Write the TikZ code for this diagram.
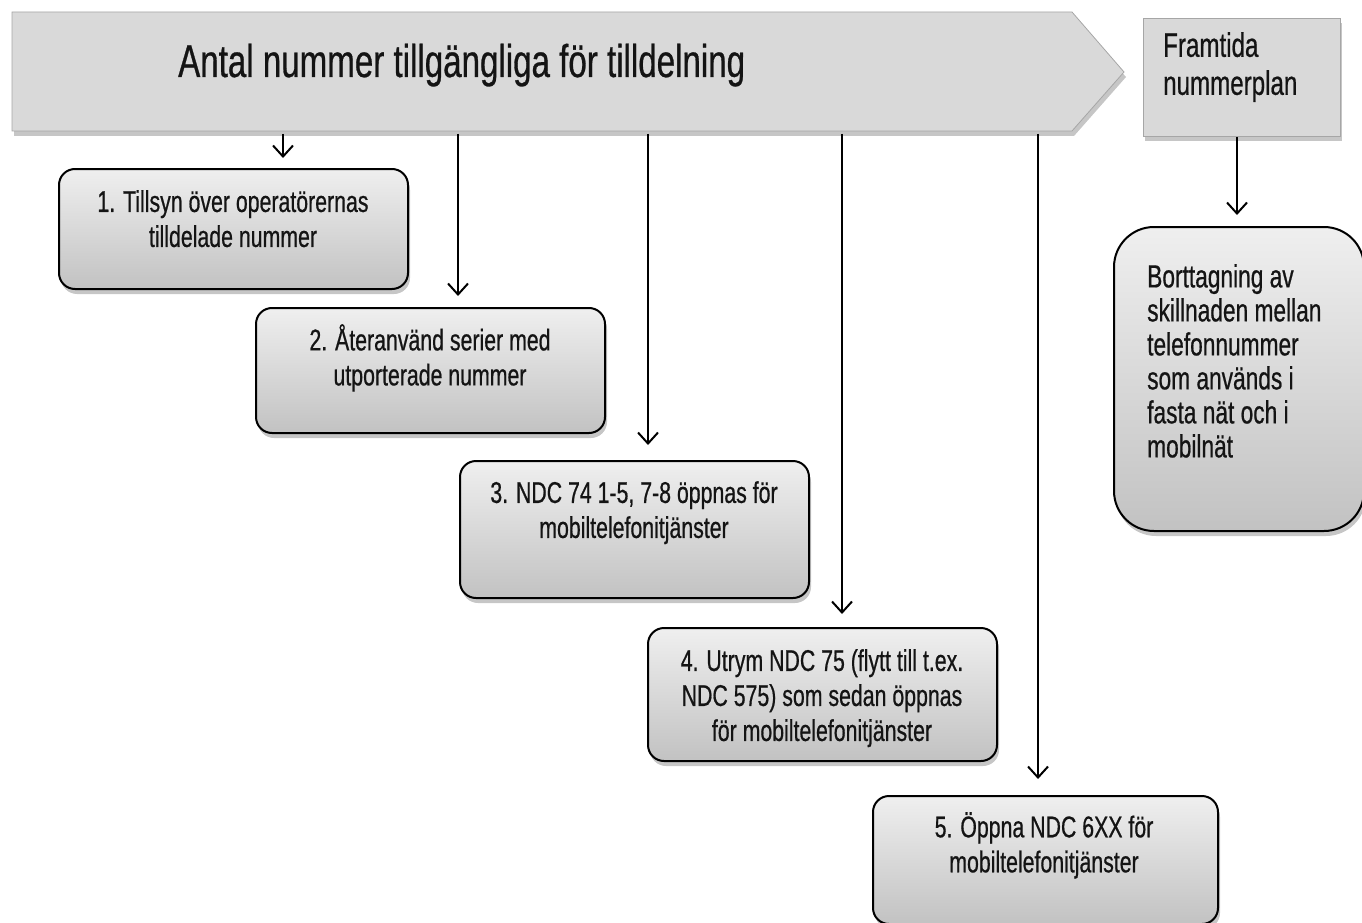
\documentclass[tikz,border=0pt]{standalone}
\usepackage{fontspec}
\setmainfont[FakeStretch=0.71, FakeBold=0.6]{Liberation Sans}
\newfontfamily\titlefont[FakeStretch=0.72, FakeBold=0.6]{Liberation Sans}
\usetikzlibrary{arrows.meta,shadows}
\definecolor{bannerfill}{HTML}{D9D9D9}
\definecolor{bannerline}{HTML}{A6A6A6}
\definecolor{boxtop}{HTML}{EFEFEF}
\definecolor{boxbot}{HTML}{C2C2C2}
\definecolor{ink}{HTML}{141414}
\tikzset{
  shadowed/.style={drop shadow={opacity=0.45, shadow xshift=2pt, shadow yshift=-5pt}},
  numbox/.style={draw=black, line width=2pt, rounded corners=16pt, top color=boxtop, bottom color=boxbot,
    shadowed, anchor=north west, inner sep=0pt, minimum width=349pt},
  boxtext/.style={text=ink, font=\fontsize{30}{35}\selectfont, align=center, anchor=north, inner sep=0pt},
  link/.style={line width=2pt, -{Straight Barb[length=11pt, width=20pt, line width=2pt]}},
}
\begin{document}
\begin{tikzpicture}[x=1pt,y=-1pt]
\useasboundingbox (0,0) rectangle (1362,923);
% banner
\fill[bannerfill, draw=bannerline, line width=0.8pt, shadowed]
  (12,12) -- (1072,12) -- (1124,72) -- (1072,131) -- (12,131) -- cycle;
\node[anchor=base west, inner sep=0pt, text=ink, font=\titlefont\fontsize{46}{50}\selectfont] (title) at (178,77)
  {Antal nummer tillgängliga för tilldelning};
% future plan box
\node[draw=bannerline, line width=0.8pt, fill=bannerfill, shadowed, anchor=north west, inner sep=0pt,
  minimum width=197pt, minimum height=118pt] (fp) at (1143,18) {};
\node[anchor=north west, align=left, inner sep=0pt, text=ink, font=\fontsize{34}{38}\selectfont] (fpt) at (1163,32)
  {Framtida\\nummerplan};
\node[numbox, rounded corners=40pt, minimum width=250pt, minimum height=304pt] (bt) at (1113,226) {};
\node[anchor=north west, align=left, inner sep=0pt, text=ink, font=\fontsize{32}{34}\selectfont] (btt) at (1147,264)
  {Borttagning av\\skillnaden mellan\\telefonnummer\\som används i\\fasta nät och i\\mobilnät};
% numbered boxes
\node[numbox, minimum height=120pt] (b1) at (58,168) {};
\node[boxtext] (t1) at (233,190) {1. Tillsyn över operatörernas\\tilldelade nummer};
\node[numbox, minimum height=125pt] (b2) at (255,307) {};
\node[boxtext] (t2) at (430,324) {2. Återanvänd serier med\\utporterade nummer};
\node[numbox, minimum height=137pt] (b3) at (459,460) {};
\node[boxtext] (t3) at (634,481) {3. NDC 74 1-5, 7-8 öppnas för\\mobiltelefonitjänster};
\node[numbox, minimum height=133pt] (b4) at (647,627) {};
\node[boxtext] (t4) at (822,649) {4. Utrym NDC 75 (flytt till t.ex.\\NDC 575) som sedan öppnas\\för mobiltelefonitjänster};
\node[numbox, minimum width=345pt, minimum height=128pt] (b5) at (872,795) {};
\node[boxtext] (t5) at (1044,812) {5. Öppna NDC 6XX för\\mobiltelefonitjänster};
% connectors
\coordinate (a1) at (283,134);
\coordinate (a2) at (458,134);
\coordinate (a3) at (648,134);
\coordinate (a4) at (842,134);
\coordinate (a5) at (1038,134);
\coordinate (a6) at (1237,137);
\draw[link, shorten >=10pt] (a1) -- (a1 |- b1.north);
\draw[link, shorten >=11pt] (a2) -- (a2 |- b2.north);
\draw[link, shorten >=15pt] (a3) -- (a3 |- b3.north);
\draw[link, shorten >=13pt] (a4) -- (a4 |- b4.north);
\draw[link, shorten >=16pt] (a5) -- (a5 |- b5.north);
\draw[link, shorten >=11pt] (a6) -- (a6 |- bt.north);
\end{tikzpicture}
\end{document}
